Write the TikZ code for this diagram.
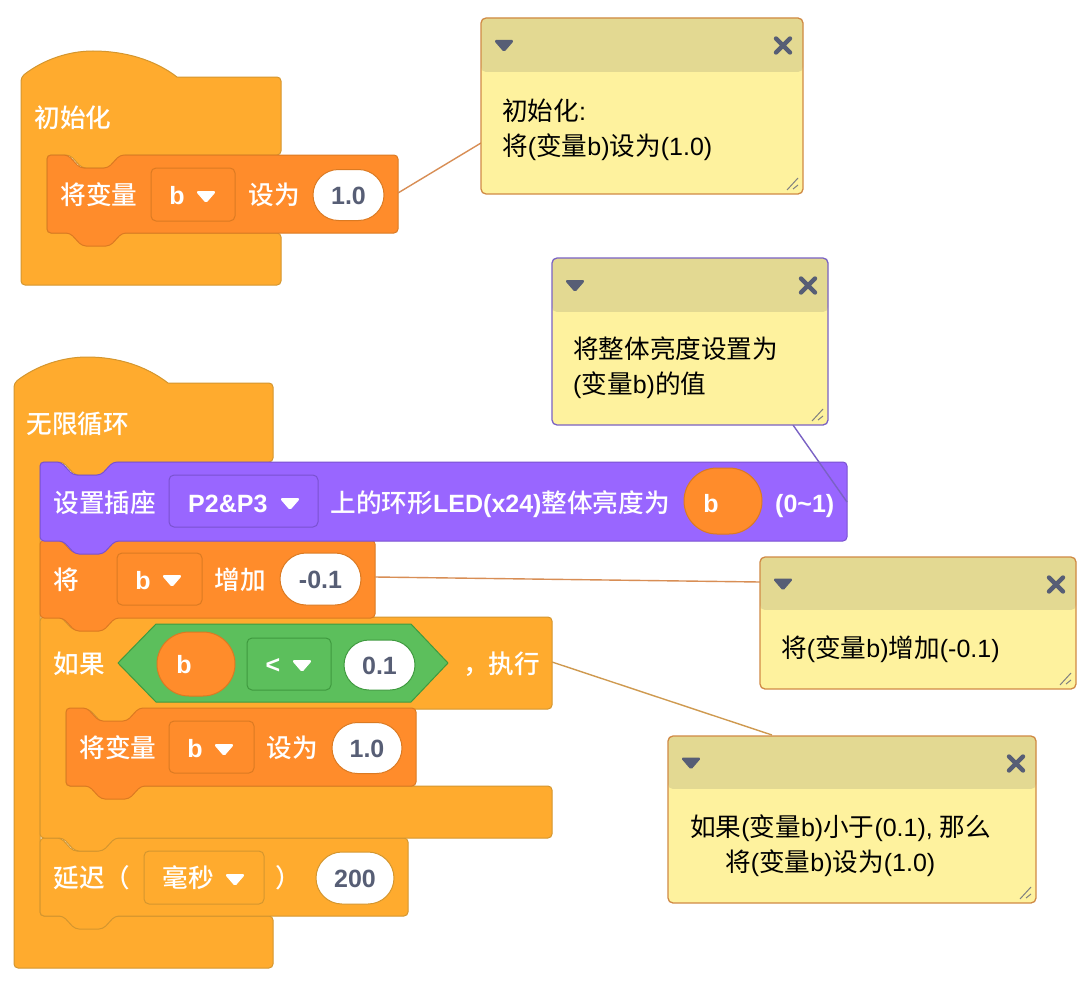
\documentclass[tikz,border=0pt]{standalone}
\usepackage{fontspec}
\usetikzlibrary{shapes.misc,fit}
\setmainfont{Liberation Sans}
\newfontfamily\zhreg{Noto Sans CJK SC}[Scale=1.025]
\newfontfamily\zhbold{Noto Sans CJK SC Medium}[Scale=1.025]
\newfontfamily\latreg{Liberation Sans}
\newfontfamily\latbold{Liberation Sans Bold}
\newcommand\zw[1]{{\zhbold #1}}
\newcommand\lw[1]{{\latbold #1}}
\newcommand\zn[1]{{\zhreg #1}}
\newcommand\lnn[1]{{\latreg #1}}
\definecolor{ctrlF}{HTML}{FFAB2E}
\definecolor{ctrlD}{HTML}{D4962E}
\definecolor{varF}{HTML}{FF8C2B}
\definecolor{varD}{HTML}{DB7A22}
\definecolor{purF}{HTML}{9966FF}
\definecolor{purD}{HTML}{7A52D0}
\definecolor{grnF}{HTML}{5CBF5C}
\definecolor{grnD}{HTML}{3F9A3F}
\definecolor{inkc}{HTML}{575E75}
\definecolor{noteF}{HTML}{FEF29E}
\definecolor{noteH}{HTML}{E3D992}
\definecolor{noteO}{HTML}{D08A45}
\definecolor{noteP}{HTML}{7A62C4}
\definecolor{linkO}{HTML}{D88E55}
\definecolor{linkP}{HTML}{7A62C4}
\definecolor{linkC}{HTML}{CF9A50}
\tikzset{
  x=1pt,y=-1pt,
  ctrlblk/.style={fill=ctrlF,draw=ctrlD,line width=1pt},
  varblk/.style={fill=varF,draw=varD,line width=1pt},
  purblk/.style={fill=purF,draw=purD,line width=1pt},
  txt/.style={inner sep=0pt,anchor=west,text height=18pt,text depth=0pt,text=white,font=\fontsize{25}{30}\selectfont},
  notetxt/.style={inner sep=0pt,anchor=west,text height=18pt,text depth=0pt,text=black,font=\fontsize{25}{30}\selectfont},
  pill/.style={rounded rectangle,fill=white,inner sep=0pt,line width=1pt,font=\fontsize{25}{30}\selectfont,text=inkc,text height=18pt,text depth=0pt},
  oval/.style={rounded rectangle,fill=varF,draw=varD,inner sep=0pt,line width=1pt},
  menu/.style={rectangle,rounded corners=5pt,inner sep=0pt,line width=1pt},
  link/.style={line width=1.4pt},
}
% stack block: style, x0,y0,x1,y1
\newcommand\stackblk[5]{%
  \draw[#1,rounded corners=4pt] (#2,#3) -- ++(21,0) -- ++(12,13) -- ++(28,0) -- ++(12,-13)
    -- (#4,#3) -- (#4,#5) -- (#2+75,#5) -- ++(-12,13) -- ++(-28,0) -- ++(-12,-13) -- (#2,#5) -- cycle;}
% dropdown triangle: colour, x, y
\newcommand\dtri[3]{\filldraw[#1,line width=1pt,line join=round,rounded corners=1.5pt] ({#2-9.5},{#3-4.5}) -- ({#2+9.5},{#3-4.5}) -- ({#2},{#3+6.5}) -- cycle;}
% note: name, x0,y0,x1,y1,yh,border colour
\newcommand\notebox[7]{%
  \fill[noteF,rounded corners=5pt] (#2,#3) rectangle (#4,#5);
  \fill[noteH,rounded corners=5pt] (#2,#6) -- (#2,#3) -- (#4,#3) -- (#4,#6) -- cycle;
  \fill[noteF] (#2,#6) rectangle (#4,#6+6);
  \node[fit={(#2,#3)(#4,#5)},inner sep=0pt,draw=#7,line width=1.3pt,rounded corners=5pt] (#1) {};
  \dtri{inkc}{#2+23}{(#3+#6)/2}
  \draw[inkc,line width=4.4pt,line cap=round] (#4-27,#3+20.5) -- (#4-13,#3+34.5) (#4-13,#3+20.5) -- (#4-27,#3+34.5);
  \draw[gray,line width=1pt] (#4-5,#5-16) -- (#4-16,#5-4) (#4-5,#5-9) -- (#4-10,#5-5);}
\begin{document}
\begin{tikzpicture}
\useasboundingbox (0,0) rectangle (1092,982);
\fill[white] (0,0) rectangle (1092,982);

%% ---- first stack
\draw[ctrlblk] (21,77) .. controls (43,60) and (68,51) .. (93,51) .. controls (125,51) and (155,60) .. (177,77)
  [rounded corners=4pt] -- (281,77) -- (281,155) -- (122,155) -- ++(-12,13) -- ++(-28,0) -- ++(-12,-13) -- (47,155)
  -- (47,233) -- (281,233) -- (281,285) -- (21,285) -- cycle;
\node[txt] (t1) at (34.5,118) {\zw{初始化}};
\stackblk{varblk}{47}{155}{398}{233}
\node[txt] (t2) at (60.5,195) {\zw{将变量}};
\node[menu,draw=varD,fill=varF,minimum width=84pt,minimum height=53pt] (m1) at (193,194.5) {};
\node[txt,anchor=center] (t3) at (177,195) {\lw{b}};
\dtri{white}{206}{196}
\node[txt] (t4) at (248.5,195) {\zw{设为}};
\node[pill,draw=varD,minimum width=71pt,minimum height=51pt] (p1) at (348.5,195) {\lw{1.0}};

%% ---- second stack
\draw[ctrlblk] (14,383) .. controls (36,366) and (62,357) .. (87,357) .. controls (118,357) and (146,366) .. (168,383)
  [rounded corners=4pt] -- (273,383) -- (273,462) -- (115,462) -- ++(-12,13) -- ++(-28,0) -- ++(-12,-13) -- (40,462)
  -- (40,916) -- (273,916) -- (273,968) -- (14,968) -- cycle;
\node[txt] (t5) at (26.5,424) {\zw{无限循环}};

% delay
\stackblk{ctrlblk}{40}{838}{408}{916}
\node[txt] (t6) at (53.5,878) {\zw{延迟（}};
\node[menu,draw=ctrlD,fill=ctrlF,minimum width=120pt,minimum height=53pt] (m2) at (204,877.5) {};
\node[txt] (t7) at (162.5,878) {\zw{毫秒}};
\dtri{white}{235}{879}
\node[txt] (t8) at (275,878) {\zw{）}};
\node[pill,draw=ctrlD,minimum width=78pt,minimum height=52pt] (p2) at (355,878) {\lw{200}};

% if
\draw[ctrlblk,rounded corners=4pt] (40,617) -- ++(21,0) -- ++(12,13) -- ++(28,0) -- ++(12,-13) -- (552,617) -- (552,709)
  -- (141,709) -- ++(-12,13) -- ++(-28,0) -- ++(-12,-13) -- (66,709) -- (66,786) -- (552,786) -- (552,838)
  -- (115,838) -- ++(-12,13) -- ++(-28,0) -- ++(-12,-13) -- (40,838) -- cycle;
\node[txt] (t9) at (53.5,664) {\zw{如果}};
\draw[fill=grnF,draw=grnD,line width=1pt,line join=round] (118,663) -- (156,624) -- (411,624) -- (448,663) -- (411,702) -- (156,702) -- cycle;
\node[oval,minimum width=78pt,minimum height=64pt] (o1) at (196,664) {};
\node[txt,anchor=center] (t10) at (184,664) {\lw{b}};
\node[menu,draw=grnD,fill=grnF,minimum width=84pt,minimum height=52pt] (m3) at (289,664) {};
\node[txt,anchor=center] (t11) at (273,664) {\lw{<}};
\dtri{white}{302}{665}
\node[pill,draw=grnD,minimum width=71pt,minimum height=50pt] (p3) at (379.5,665) {\lw{0.1}};
\node[txt] (t12) at (463,664) {\zw{，执行}};

% inner set
\stackblk{varblk}{66}{708}{416}{786}
\node[txt] (t13) at (79.5,748) {\zw{将变量}};
\node[menu,draw=varD,fill=varF,minimum width=85pt,minimum height=52pt] (m4) at (211.5,747) {};
\node[txt,anchor=center] (t14) at (195,748) {\lw{b}};
\dtri{white}{224}{749}
\node[txt] (t15) at (266.5,748) {\zw{设为}};
\node[pill,draw=varD,minimum width=70pt,minimum height=51pt] (p4) at (367,748) {\lw{1.0}};

% change
\stackblk{varblk}{40}{540}{375}{618}
\node[txt] (t16) at (53.5,580) {\zw{将}};
\node[menu,draw=varD,fill=varF,minimum width=85pt,minimum height=52pt] (m5) at (159.5,579) {};
\node[txt,anchor=center] (t17) at (143,580) {\lw{b}};
\dtri{white}{172}{580}
\node[txt] (t18) at (214.5,580) {\zw{增加}};
\node[pill,draw=varD,minimum width=81pt,minimum height=52pt] (p5) at (320.5,579) {\lw{-0.1}};

% purple
\stackblk{purblk}{40}{462}{847}{541}
\node[txt] (t19) at (53.5,503) {\zw{设置插座}};
\node[menu,draw=purD,fill=purF,minimum width=149pt,minimum height=52pt] (m6) at (243.5,501) {};
\node[txt] (t20) at (188,503) {\lw{P2\&P3}};
\dtri{white}{290}{503}
\node[txt] (t21) at (330.5,503) {\zw{上的环形}\lw{LED(x24)}\zw{整体亮度为}};
\node[oval,minimum width=78pt,minimum height=66pt] (o2) at (723,501) {};
\node[txt,anchor=center] (t22) at (711,503) {\lw{b}};
\node[txt] (t23) at (775,503) {\lw{(0\textasciitilde 1)}};

%% ---- anchors for connectors
\coordinate (a1) at (398,193);
\coordinate (b1) at (481,143);
\coordinate (a2) at (847,502);
\coordinate (b2) at (793,425);
\coordinate (a3) at (375,577);
\coordinate (b3) at (760,582);
\coordinate (a4) at (552,662);
\coordinate (b4) at (772,735);
\draw[link,linkO] (a1) -- (b1);
\draw[link,linkP] (a2) -- (b2);
\draw[link,linkO] (a3) -- (b3);
\draw[link,linkC] (a4) -- (b4);

%% ---- notes
\notebox{n1}{481}{18}{803}{194}{72}{noteO}
\node[notetxt] (n1a) at (502,111) {\zn{初始化}\lnn{:}};
\node[notetxt] (n1b) at (502,146) {\zn{将}\lnn{(}\zn{变量}\lnn{b)}\zn{设为}\lnn{(1.0)}};

\notebox{n2}{552}{258}{828}{425}{312}{noteP}
\node[notetxt] (n2a) at (573,349) {\zn{将整体亮度设置为}};
\node[notetxt] (n2b) at (573,384) {\lnn{(}\zn{变量}\lnn{b)}\zn{的值}};

\notebox{n3}{760}{557}{1076}{689}{610}{noteO}
\node[notetxt] (n3a) at (781,648) {\zn{将}\lnn{(}\zn{变量}\lnn{b)}\zn{增加}\lnn{(-0.1)}};

\notebox{n4}{668}{736}{1036}{903}{789}{noteO}
\node[notetxt] (n4a) at (690,827) {\zn{如果}\lnn{(}\zn{变量}\lnn{b)}\zn{小于}\lnn{(0.1), }\zn{那么}};
\node[notetxt] (n4b) at (725,862) {\zn{将}\lnn{(}\zn{变量}\lnn{b)}\zn{设为}\lnn{(1.0)}};
\end{tikzpicture}
\end{document}
